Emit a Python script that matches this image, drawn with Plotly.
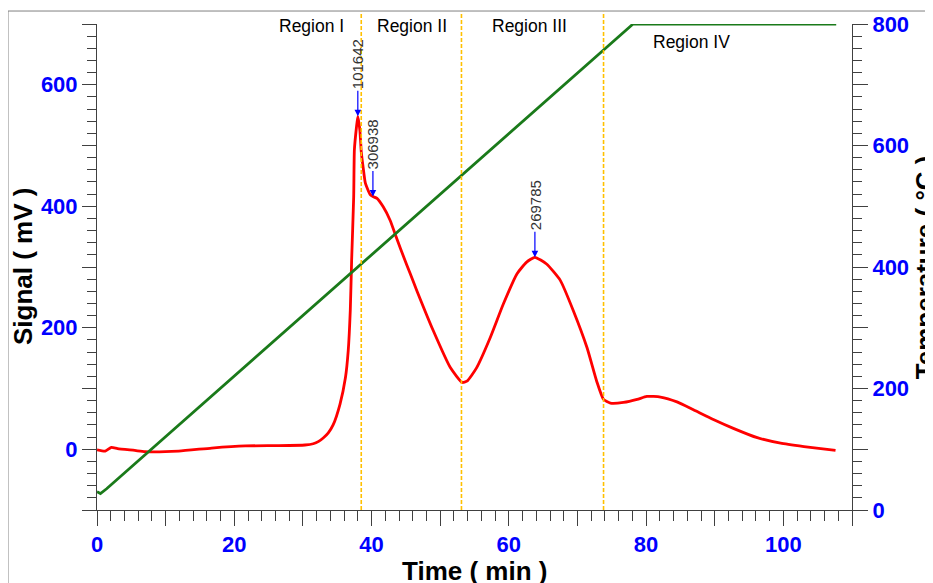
import plotly.graph_objects as go

# ---- data ----
time_sig = [0, 1.2, 2.1, 3.0, 5.5, 7.0, 11.9, 16.7, 21.6, 26.4, 30.3, 31.5, 32.3, 33.0, 33.7,
            34.4, 35.4, 36.2, 36.6, 36.9, 37.1, 37.4, 37.5, 37.8, 38.0, 38.3, 38.5, 38.8, 39.1,
            39.8, 40.2, 40.8, 41.7, 42.7, 43.7, 44.7, 45.6, 46.6, 49.0, 51.5, 53.2, 53.9, 55.3,
            57.3, 59.2, 61.2, 62.6, 63.8, 65.5, 67.5, 69.4, 71.4, 72.8, 73.8, 74.8, 76.7, 78.7,
            80.1, 82.1, 84.5, 86.9, 89.8, 92.8, 96.2, 99.6, 103.0, 107.6]
signal_mv = [-1, -3, 3, 1, -2, -4, -3, 2, 5.5, 6, 7, 9, 13, 19, 27,
             40, 74, 118, 162, 228, 311, 416, 493, 530, 548, 525, 490, 462, 438,
             419, 416, 413, 399, 377, 346, 316, 290, 261, 195, 134, 110, 112, 134,
             184, 239, 289, 308, 316, 305, 278, 228, 167, 112, 82, 76, 77, 82,
             87, 86, 78, 65, 49, 34, 19, 10, 4.5, -2]

time_temp = [0, 0.5, 1.4, 78.1, 107.7]
temp_c = [30, 27, 35, 800, 800]

region_bounds = [38.5, 53.1, 73.8]
region_names = ["Region I", "Region II", "Region III", "Region IV"]
region_label_x = [31.2, 45.9, 63.0, 86.6]
region_label_y = [697, 697, 697, 670]

peak_labels = ["101642", "306938", "269785"]
peak_x = [38.0, 40.2, 63.8]
peak_y = [548, 416, 316]

x_ticks = [0, 20, 40, 60, 80, 100]
y_ticks = [0, 200, 400, 600]
y2_ticks = [0, 200, 400, 600, 800]

FONT = "Liberation Sans, Arial, sans-serif"
BLUE = "#0000FF"
AX = "#404040"

fig = go.Figure()
fig.add_trace(go.Scatter(x=time_temp, y=temp_c, mode="lines", yaxis="y2",
                         line=dict(color="#1a7a1a", width=2.8), showlegend=False))
fig.add_trace(go.Scatter(x=time_sig, y=signal_mv, mode="lines",
                         line=dict(color="#FF0000", width=2.8, shape="spline", smoothing=0.5),
                         showlegend=False))

def alias(vals, keep):
    d = {}
    for v in vals:
        if v not in keep:
            d[str(v)] = " "
            if v < 0:
                d["\u2212" + str(-v)] = " "
    return d

tickfont = dict(family=FONT, size=22, color=BLUE, weight="bold")

fig.update_layout(
    width=933, height=583,
    margin=dict(l=89, r=89, t=16, b=81),
    paper_bgcolor="white", plot_bgcolor="white",
    font=dict(family=FONT),
    xaxis=dict(range=[0, 110], tickmode="linear", tick0=0, dtick=10,
               labelalias=alias(list(range(0, 111, 10)), x_ticks),
               ticks="outside", ticklen=15, tickwidth=1, tickcolor=AX,
               minor=dict(ticks="outside", dtick=2, ticklen=10, tickcolor=AX, tickwidth=1),
               showline=True, linecolor=AX, linewidth=1, showgrid=False, zeroline=False,
               tickfont=tickfont, automargin=False),
    yaxis=dict(range=[-100, 700], tickmode="linear", tick0=0, dtick=100,
               labelalias=alias(list(range(-100, 701, 100)), y_ticks),
               ticks="outside", ticklen=14, tickwidth=1, tickcolor=AX,
               minor=dict(ticks="outside", dtick=20, ticklen=9, tickcolor=AX, tickwidth=1),
               showline=True, linecolor=AX, linewidth=1, showgrid=False, zeroline=False,
               tickfont=tickfont, automargin=False),
    yaxis2=dict(range=[0, 800], overlaying="y", side="right", tickmode="linear", tick0=0, dtick=100,
                labelalias=alias(list(range(0, 801, 100)), y2_ticks),
                ticks="outside", ticklen=15, tickwidth=1, tickcolor=AX,
                minor=dict(ticks="outside", dtick=20, ticklen=9, tickcolor=AX, tickwidth=1),
                showline=True, linecolor=AX, linewidth=1, showgrid=False, zeroline=False,
                tickfont=tickfont, automargin=False),
)

# region boundaries
for b in region_bounds:
    fig.add_shape(type="line", xref="x", yref="paper", x0=b, x1=b, y0=0, y1=1.025,
                  line=dict(color="#FFC000", width=1.6, dash="4px,2px"))

# outer frame
fig.add_shape(type="rect", xref="paper", yref="paper", x0=-0.1179, x1=1.2, y0=-0.3, y1=1.0267,
              line=dict(color="#808080", width=1), fillcolor="rgba(0,0,0,0)", layer="below")

for name, lx, ly in zip(region_names, region_label_x, region_label_y):
    fig.add_annotation(x=lx, y=ly, xref="x", yref="y", text=name, showarrow=False,
                       font=dict(family=FONT, size=17.5, color="black"))

for lab, px, py in zip(peak_labels, peak_x, peak_y):
    fig.add_annotation(x=px, y=py, xref="x", yref="y", text=lab, textangle=-90,
                       showarrow=True, ax=0, ay=-52, arrowhead=2, arrowsize=1.1,
                       arrowwidth=1.2, arrowcolor=BLUE, standoff=0,
                       font=dict(family=FONT, size=15, color="#333333"))

bold_title = dict(family=FONT, size=26, color="black", weight="bold")
fig.add_annotation(x=0.5, y=-0.1255, xref="paper", yref="paper", text="Time ( min )",
                   showarrow=False, font=bold_title, xanchor="center", yanchor="middle")
fig.add_annotation(x=-0.098, y=0.5, xref="paper", yref="paper", text="Signal ( mV )",
                   showarrow=False, font=bold_title, textangle=-90, xanchor="center", yanchor="middle")
fig.add_annotation(x=1.097, y=0.5, xref="paper", yref="paper", text="Temperature ( °C )",
                   showarrow=False, font=bold_title, textangle=-90, xanchor="center", yanchor="middle")

fig.write_html("out.html")
